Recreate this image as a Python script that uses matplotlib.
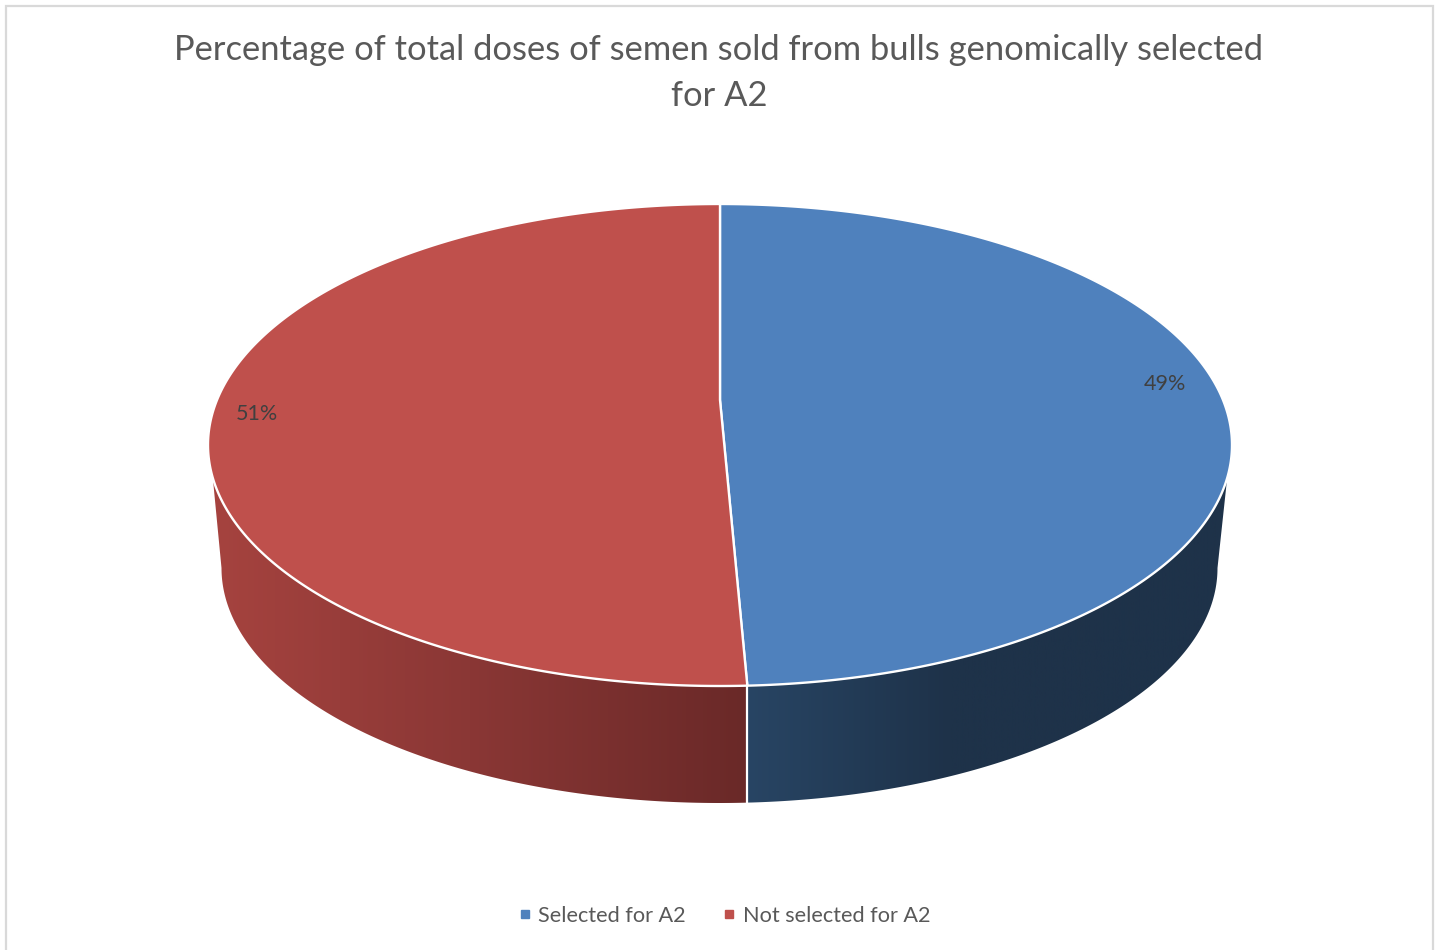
import numpy as np
import matplotlib
matplotlib.use("Agg")
import matplotlib.pyplot as plt
from matplotlib.colors import LinearSegmentedColormap
from matplotlib.lines import Line2D
from matplotlib.patches import Polygon, Rectangle

# Data
categories = ["Selected for A2", "Not selected for A2"]
shares = [49.15, 50.85]
title = "Percentage of total doses of semen sold from bulls genomically selected\nfor A2"

# Styles
top_colors = ["#4F81BD", "#BF504C"]
wall_stops = [["#284564", "#1E3249", "#1E3249"], ["#6A2928", "#8A3735", "#A6433F"]]
TEXT = "#595959"
LABEL = "#404040"
plt.rcParams["font.family"] = ["Lato", "DejaVu Sans"]

W, H = 1439, 950
fig = plt.figure(figsize=(W / 100, H / 100), dpi=100)
ax = fig.add_axes([0, 0, 1, 1])
ax.set_xlim(0, W)
ax.set_ylim(H, 0)
ax.axis("off")

ax.add_patch(Rectangle((6, 5.5), 1427, 1000, fc="white", ec="#D9D9D9", lw=1.6, zorder=0))

# Geometry of the tilted disc (pixels)
CX, CY, RX, RY = 720, 445, 512, 241
BX, BY, BRX, BRY = 719.5, 568, 498, 235
APEX = (720, 400)

def top(th):
    return np.c_[CX + RX * np.sin(th), CY - RY * np.cos(th)]

def bottom(th):
    return np.c_[BX + BRX * np.sin(th), BY - BRY * np.cos(th)]

edges = np.radians(np.r_[0, np.cumsum(shares)] / np.sum(shares) * 360)

# visible limits of the side wall (angles clockwise from the back of the disc)
t_right = np.pi - np.arccos((478 - CY) / RY)
t_left = 2 * np.pi - t_right
b_right, b_left = np.pi / 2, 3 * np.pi / 2

def map_b(t):
    return b_right + (t - t_right) / (t_left - t_right) * (b_left - b_right)

boundary = edges[1]
ranges = [(t_right, boundary), (boundary, t_left)]
x_stops = [[747, 950, 1230], [747, 470, 210]]
for i, (t0, t1) in enumerate(ranges):
    ts = np.linspace(t0, t1, 300)
    # bottom edge meets the slice boundary directly below the top corner
    pts = np.vstack([top(ts), bottom(map_b(ts))[::-1]])
    if i == 0:
        pts[300, 0] = pts[299, 0]
    else:
        pts[-1, 0] = pts[0, 0]
    poly = Polygon(pts, closed=True, fc="none", ec="none", transform=ax.transData)
    ax.add_patch(poly)
    xs = np.sort(x_stops[i])
    order = np.argsort(x_stops[i])
    cmap = LinearSegmentedColormap.from_list(
        "w", [((x_stops[i][k] - xs[0]) / (xs[-1] - xs[0]), wall_stops[i][k]) for k in order]
    )
    im = ax.imshow(
        np.linspace(0, 1, 512)[None, :], cmap=cmap, aspect="auto",
        extent=(xs[0], xs[-1], 810, 470), zorder=1,
    )
    im.set_clip_path(poly)
ax.set_xlim(0, W)
ax.set_ylim(H, 0)

# Divider on the wall
xb = top(np.array([boundary]))[0, 0]
ybt = top(np.array([boundary]))[0, 1]
ax.plot([xb, xb], [ybt, 803], color="white", lw=1.6, zorder=2)

# Top face slices
for i in range(len(shares)):
    ts = np.linspace(edges[i], edges[i + 1], 400)
    pts = np.vstack([[APEX], top(ts)])
    ax.add_patch(Polygon(pts, closed=True, fc=top_colors[i], ec="white", lw=1.7,
                         joinstyle="round", zorder=3))

# Data labels
label_pos = [(1165, 384), (257, 414)]
for v, (x, y) in zip(shares, label_pos):
    ax.text(x, y, f"{round(v)}%", ha="center", va="center", fontsize=15.5, color=LABEL, zorder=4)

ax.text(719, 73, title, ha="center", va="center", fontsize=24.8, color=TEXT, linespacing=1.5)

handles = [Line2D([], [], ls="none", marker="s", ms=5.6, mfc=c, mec=c) for c in top_colors]
ax.legend(handles, categories, loc="center", bbox_to_anchor=(725, 916),
          bbox_transform=ax.transData, ncol=2, frameon=False, fontsize=15.6,
          labelcolor=TEXT, handlelength=0.5, handletextpad=0.36, columnspacing=1.75,
          borderpad=0)

fig.savefig("out.png", dpi=100)
